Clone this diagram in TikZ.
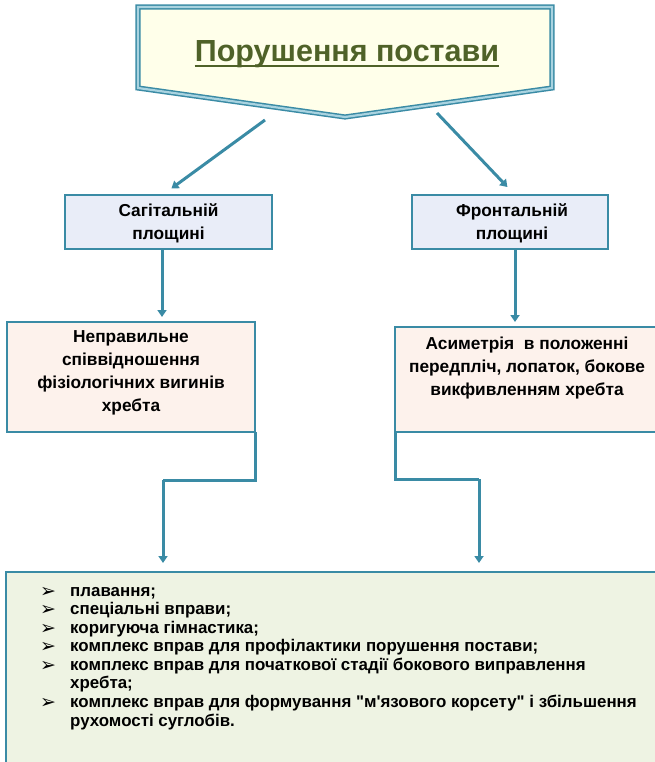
\documentclass[tikz,border=0pt]{standalone}
\usepackage{fontspec}
\setmainfont{Liberation Sans}[Ligatures=TeXOff]
\newfontfamily\bulletfont{DejaVu Sans}
\usetikzlibrary{arrows.meta}
\definecolor{linec}{HTML}{3A8BA5}
\definecolor{dblc}{HTML}{A9D3E0}
\definecolor{titlefill}{HTML}{FFFFEA}
\definecolor{titletext}{HTML}{4F6228}
\definecolor{bluefill}{HTML}{E9EDF8}
\definecolor{pinkfill}{HTML}{FDF2EC}
\definecolor{greenfill}{HTML}{EEF3E3}
\tikzset{
  boxstyle/.style={draw=linec, line width=2pt, inner sep=0pt, outer sep=0pt},
  planebox/.style={boxstyle, fill=bluefill},
  pinkbox/.style={boxstyle, fill=pinkfill},
  greenbox/.style={boxstyle, fill=greenfill},
  boxtext/.style={font=\bfseries\fontsize{17.3}{23}\selectfont, align=center, inner sep=0pt},
  listtext/.style={font=\bfseries\fontsize{16.9}{18}\selectfont, anchor=base west, inner sep=0pt},
  bullet/.style={font=\bulletfont\bfseries\fontsize{19}{20}\selectfont, anchor=base west, inner sep=0pt},
  arr/.style={draw=linec, line width=3pt, -{Triangle[width=9pt,length=7pt]}},
  link/.style={draw=linec, line width=3pt}
}
\begin{document}
\begin{tikzpicture}[x=1pt,y=-1pt]
\useasboundingbox (0,0) rectangle (655,762);
\clip (0,0) rectangle (655,762);
% title shape
\coordinate (t1) at (138,7);
\coordinate (t2) at (552,7);
\coordinate (t3) at (552,88);
\coordinate (t4) at (345,117);
\coordinate (t5) at (138,88);
\fill[titlefill] (t1) -- (t2) -- (t3) -- (t4) -- (t5) -- cycle;
\draw[linec, line width=1.5pt, double=dblc, double distance=2.2pt, line join=miter]
  (t1) -- (t2) -- (t3) -- (t4) -- (t5) -- cycle;
\node[font=\bfseries\fontsize{30.5}{33}\selectfont, text=titletext, inner sep=0pt] (title) at (347,54) {Порушення постави};
\draw[titletext, line width=2.2pt] ([yshift=-5pt]title.base west) -- ([yshift=-5pt]title.base east);
% plane boxes
\node[planebox, minimum width=207pt, minimum height=54pt] (sag) at (168.5,222) {};
\node[boxtext] (sagt) at (168.5,223) {Сагітальній\\площині};
\node[planebox, minimum width=196pt, minimum height=54pt] (front) at (510,222) {};
\node[boxtext] (frontt) at (512,223) {Фронтальній\\площині};
% title arrows
\coordinate (ls) at (265,120);
\coordinate (rs) at (437,113);
\draw[arr, shorten >=11pt] (ls) -- ([xshift=-6pt]sag.north);
\draw[arr, shorten >=11pt] (rs) -- ([xshift=5pt]front.north);
% pink boxes
\node[pinkbox, minimum width=248pt, minimum height=110pt] (lpink) at (131,377) {};
\node[boxtext] (lpinkt) at (131,373) {Неправильне\\співвідношення\\фізіологічних вигинів\\хребта};
\node[pinkbox, minimum width=265pt, minimum height=105pt] (rpink) at (527.5,379.5) {};
\node[boxtext] (rpinkt) at (527,368.5) {Асиметрія~ в положенні\\передпліч, лопаток, бокове\\викфивленням хребта};
\draw[arr] ([xshift=-6.5pt]sag.south) -- ([xshift=31pt,yshift=5pt]lpink.north);
\draw[arr] ([xshift=5pt]front.south) -- ([xshift=-12.5pt,yshift=5pt]rpink.north);
% bottom box
\node[greenbox, minimum width=700pt, minimum height=240pt, anchor=north west] (bottom) at (6,572) {};
% connectors to bottom
\coordinate (lk1) at (255,480);
\coordinate (lk2) at (163,480);
\coordinate (rk1) at (395,479);
\coordinate (rk2) at (479,479);
\draw[link] (lpink.south east) -- (lk1) -- (lk2);
\draw[arr] (lk2) -- ([yshift=9pt]lk2 |- bottom.north);
\draw[link] (rpink.south west) -- (rk1) -- (rk2);
\draw[arr] (rk2) -- ([yshift=9pt]rk2 |- bottom.north);
% list
\node[bullet] (b1) at (40,597) {➢};
\node[listtext] (l1) at (70,596) {плавання;};
\node[bullet] (b2) at (40,615.5) {➢};
\node[listtext] (l2) at (70,614.5) {спеціальні вправи;};
\node[bullet] (b3) at (40,634) {➢};
\node[listtext] (l3) at (70,633) {коригуюча гімнастика;};
\node[bullet] (b4) at (40,652.5) {➢};
\node[listtext] (l4) at (70,651.5) {комплекс вправ для профілактики порушення постави;};
\node[bullet] (b5) at (40,671) {➢};
\node[listtext] (l5) at (70,670) {комплекс вправ для початкової стадії бокового виправлення};
\node[listtext] (l5b) at (70,688.5) {хребта;};
\node[bullet] (b6) at (40,708) {➢};
\node[listtext] (l6) at (70,707) {комплекс вправ для формування "м'язового корсету" і збільшення};
\node[listtext] (l6b) at (70,726) {рухомості суглобів.};
\end{tikzpicture}
\end{document}
